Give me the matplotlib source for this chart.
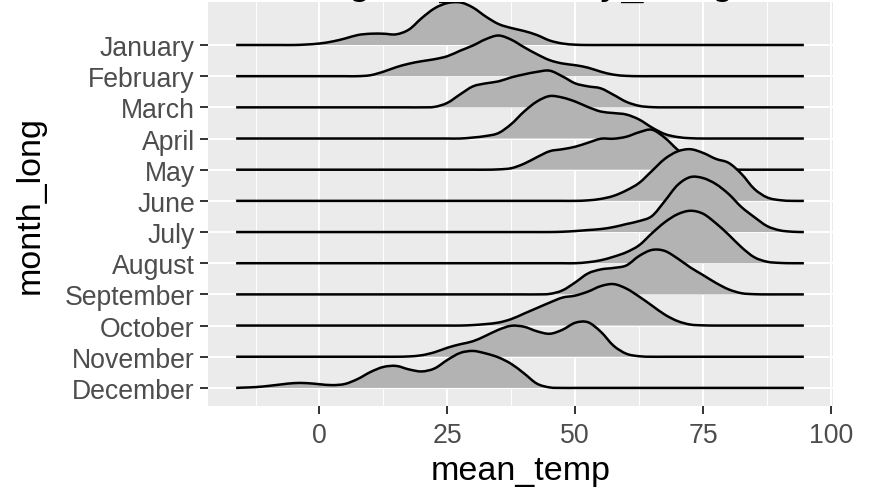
import matplotlib
matplotlib.use("Agg")
import numpy as np
import matplotlib.pyplot as plt
from matplotlib.path import Path
from matplotlib.patches import PathPatch

plt.rcParams["font.family"] = ["Liberation Sans", "DejaVu Sans"]

months = ["January", "February", "March", "April", "May", "June", "July",
          "August", "September", "October", "November", "December"]

# temperature grid (F) the ridge heights are sampled on
temps = [-16.3, -15, -12.5, -10, -7.5, -5, -2.5, 0, 2.5, 5, 7.5, 10, 12.5, 15,
         17.5, 20, 22.5, 25, 27.5, 30, 32.5, 35, 37.5, 40, 42.5, 45, 47.5, 50,
         52.5, 55, 57.5, 60, 62.5, 65, 67.5, 70, 72.5, 75, 77.5, 80, 82.5, 85,
         87.5, 90, 92.5, 94.7]

# ridge heights per month (ROW units = one row of spacing)
jan = [0, 0, 0, 0, 0, 0, 0.5, 1.5, 3.5, 6.5, 10, 11.3, 11.3, 10.7, 15.5, 27,
       36.7, 42, 42.7, 37.5, 28.5, 21, 17, 14, 10, 4.5, 1.5, 0.3,
       0, 0, 0, 0, 0, 0, 0, 0, 0, 0, 0, 0, 0, 0, 0, 0, 0, 0]
feb = [0, 0, 0, 0, 0, 0, 0, 0, 0, 0, 0, 1, 4.5, 9, 12.5, 15, 17, 20, 25.5,
       30.7, 37, 40.7, 36.5, 29, 22, 16, 12.7, 11, 8.5, 4.5, 1.5, 0.3,
       0, 0, 0, 0, 0, 0, 0, 0, 0, 0, 0, 0, 0, 0]
mar = [0, 0, 0, 0, 0, 0, 0, 0, 0, 0, 0, 0, 0, 0, 0, 0, 0.5, 4.5, 13, 21, 24,
       26, 30, 33, 35.5, 36.7, 31, 24, 21, 19, 12.5, 5.5, 1.5, 0.2,
       0, 0, 0, 0, 0, 0, 0, 0, 0, 0, 0, 0]
apr = [0, 0, 0, 0, 0, 0, 0, 0, 0, 0, 0, 0, 0, 0, 0, 0, 0, 0, 0, 1, 2.5, 5.5,
       14.5, 27, 37, 42.5, 41, 37, 31.5, 27, 25.5, 24, 19, 11, 4.5, 1.5, 0.3,
       0, 0, 0, 0, 0, 0, 0, 0, 0]
may = [0, 0, 0, 0, 0, 0, 0, 0, 0, 0, 0, 0, 0, 0, 0, 0, 0, 0, 0, 0, 0, 0.3,
       1.5, 6, 12.5, 18.5, 20.5, 23, 27, 31, 31, 33, 37.5, 40, 32, 20, 10, 4,
       1.2, 0.3, 0, 0, 0, 0, 0, 0]
jun = [0, 0, 0, 0, 0, 0, 0, 0, 0, 0, 0, 0, 0, 0, 0, 0, 0, 0, 0, 0, 0, 0, 0,
       0, 0, 0, 0, 0, 0.5, 2, 5, 10.5, 18, 30, 42, 49.5, 51.7, 48, 42, 38, 27,
       12, 3.5, 0.7, 0, 0]
jul = [0, 0, 0, 0, 0, 0, 0, 0, 0, 0, 0, 0, 0, 0, 0, 0, 0, 0, 0, 0, 0, 0, 0,
       0, 0, 0, 0.3, 1, 2, 3, 5, 8, 11, 16, 31, 47, 55, 54, 48, 38, 25, 15, 6,
       1.7, 0.3, 0]
aug = [0, 0, 0, 0, 0, 0, 0, 0, 0, 0, 0, 0, 0, 0, 0, 0, 0, 0, 0, 0, 0, 0, 0,
       0, 0, 0, 0, 0, 1, 3, 6.5, 11, 18, 30, 41, 49, 52.5, 49.5, 40, 28.5, 16,
       6, 1.5, 0.3, 0, 0]
sep = [0, 0, 0, 0, 0, 0, 0, 0, 0, 0, 0, 0, 0, 0, 0, 0, 0, 0, 0, 0, 0, 0, 0,
       0, 0, 0.5, 4, 12, 21, 25, 26.5, 29, 38.5, 44.5, 43.5, 36, 27, 19.3,
       11.5, 5, 1.2, 0.2, 0, 0, 0, 0]
octo = [0, 0, 0, 0, 0, 0, 0, 0, 0, 0, 0, 0, 0, 0, 0, 0, 0, 0, 0, 0.5, 1.5, 3,
        6.5, 12, 17.5, 23, 28, 30, 34, 39.5, 41.5, 37, 29, 20, 11, 4.5, 1, 0.2,
        0, 0, 0, 0, 0, 0, 0, 0]
nov = [0, 0, 0, 0, 0, 0, 0, 0, 0, 0, 0, 0, 0, 0, 0.3, 1.5, 4.5, 9, 12.5, 15.5,
       21, 27, 31, 30, 25.5, 23, 27, 34, 34.5, 25, 11, 3, 0.5,
       0, 0, 0, 0, 0, 0, 0, 0, 0, 0, 0, 0, 0]
dec = [0, 0.3, 0.8, 2, 3.5, 4.8, 4.8, 3.7, 2.8, 4, 9, 16, 21, 22, 18.5, 16.5,
       19.5, 28, 35, 37, 34.5, 30.5, 24, 14.5, 4.3, 0.5,
       0, 0, 0, 0, 0, 0, 0, 0, 0, 0, 0, 0, 0, 0, 0, 0, 0, 0, 0, 0]

ridges = [jan, feb, mar, apr, may, jun, jul, aug, sep, octo, nov, dec]
ROW = 31.2


def curve(xs, ys):
    # cubic bezier through the samples (catmull-rom tangents)
    pts = np.column_stack([xs, ys])
    ext = np.vstack([pts[0], pts, pts[-1]])
    verts, codes = [pts[0]], [Path.MOVETO]
    for k in range(len(pts) - 1):
        p0, p1, p2, p3 = ext[k], ext[k + 1], ext[k + 2], ext[k + 3]
        verts += [p1 + (p2 - p0) / 6, p2 - (p3 - p1) / 6, p2]
        codes += [Path.CURVE4] * 3
    return verts, codes


fig = plt.figure(figsize=(8.71, 4.89), dpi=100)
ax = fig.add_axes([0.2388, 0.1677, 0.7176, 0.8262])
ax.set_facecolor("#EBEBEB")
for s in ax.spines.values():
    s.set_visible(False)

n = len(months)
x = np.array(temps)
for i, h in enumerate(ridges):
    base = n - i
    top = base + np.array(h) / ROW
    verts, codes = curve(x, top)
    area = Path(verts + [(x[-1], base), (x[0], base), (x[0], base)],
                codes + [Path.LINETO, Path.LINETO, Path.CLOSEPOLY])
    ax.add_patch(PathPatch(area, facecolor="#B3B3B3", lw=0, zorder=2 + 2 * i))
    ax.add_patch(PathPatch(Path(verts, codes), fill=False, edgecolor="black",
                           lw=1.8, capstyle="butt", zorder=3 + 2 * i))

ax.set_xlim(-21.8, 100.4)
ax.set_ylim(0.42, 13.38)
ax.set_xticks([0, 25, 50, 75, 100])
ax.set_xticks([-12.5, 12.5, 37.5, 62.5, 87.5], minor=True)
ax.set_yticks(range(n, 0, -1))
ax.set_yticklabels(months)
ax.grid(which="major", color="white", lw=1.4, zorder=1)
ax.grid(which="minor", axis="x", color="white", lw=0.7, zorder=1)
ax.set_axisbelow(True)
ax.tick_params(which="major", length=5.5, width=1.4, color="#333333",
               labelsize=19.2, labelcolor="#4D4D4D", pad=4)
ax.tick_params(axis="x", pad=6)
ax.tick_params(which="minor", length=0)

ax.set_xlabel("mean_temp", fontsize=24.5, labelpad=5)
ax.set_ylabel("month_long", fontsize=24.5, labelpad=14)

fig.text(0.400, 1.013, "geom_density_ridges()", family="DejaVu Sans Mono",
         fontsize=27.2, va="baseline", ha="left")

fig.savefig("out.png", dpi=100)
